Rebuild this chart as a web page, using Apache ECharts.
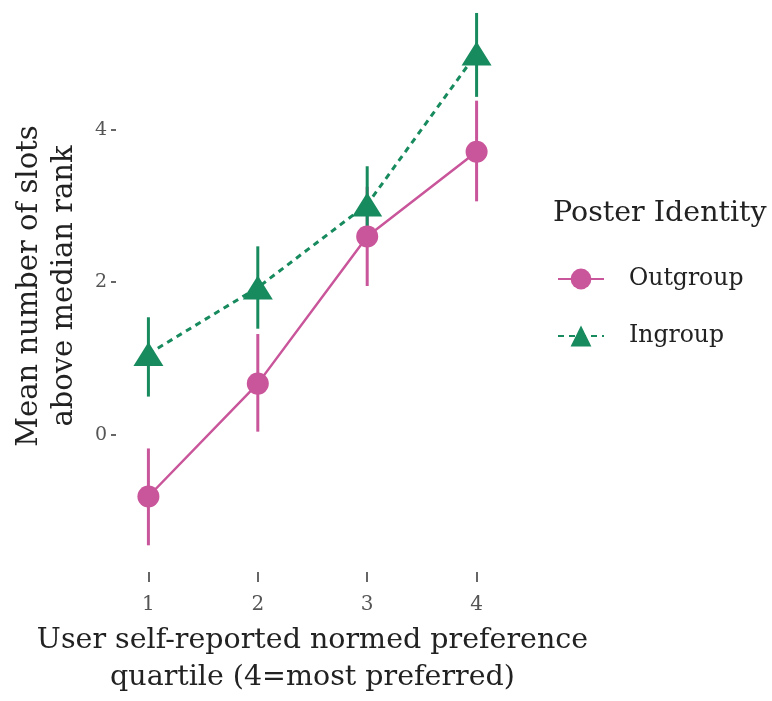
<!DOCTYPE html>
<html><head><meta charset="utf-8">
<script src="https://cdn.jsdelivr.net/npm/echarts@6/dist/echarts.min.js"></script>
<style>html,body{margin:0;padding:0;background:#fff}#c{width:772px;height:701px}</style>
</head><body><div id="c"></div>
<script>
const quartiles = [1, 2, 3, 4];
const xTicks = [1, 2, 3, 4];
const yTicks = [0, 2, 4];
const outMean = [-0.81, 0.67, 2.60, 3.71];
const outLow  = [-1.45, 0.04, 1.95, 3.06];
const outHigh = [-0.18, 1.32, 3.25, 4.38];
const inMean  = [1.06, 1.93, 3.02, 5.00];
const inLow   = [0.50, 1.39, 2.50, 4.43];
const inHigh  = [1.54, 2.47, 3.52, 5.53];

const PINK = '#c9559a', GREEN = '#178a5e';
const FONT = '"DejaVu Serif", "Liberation Serif", serif';

function errSeries(name, low, high, color) {
  return {
    type: 'custom', name: name + ' err', z: 1, silent: true,
    data: quartiles.map((q, i) => [q, low[i], high[i]]),
    renderItem: function (params, api) {
      const a = api.coord([api.value(0), api.value(1)]);
      const b = api.coord([api.value(0), api.value(2)]);
      return { type: 'line', shape: { x1: a[0], y1: a[1], x2: b[0], y2: b[1] },
               style: { stroke: color, lineWidth: 3 } };
    },
    encode: { x: 0, y: [1, 2] }
  };
}

const chart = echarts.init(document.getElementById('c'));
chart.setOption({
  animation: false,
  backgroundColor: '#fff',
  title: { text: 'Poster Identity', left: 553, top: 199, padding: 0,
           textStyle: { fontFamily: FONT, fontSize: 28.5, fontWeight: 'normal', color: '#222' } },
  legend: {
    orient: 'vertical', left: 557, top: 267, itemGap: 33, padding: 0,
    itemWidth: 46, itemHeight: 26,
    data: ['Outgroup', 'Ingroup'],
    textStyle: { fontFamily: FONT, fontSize: 23.5, color: '#222', padding: [0, 0, 0, 20] }
  },
  grid: { left: 132, right: 279, top: 0, bottom: 127, containLabel: false },
  xAxis: {
    type: 'value', min: 0.85, max: 4.15,
    name: 'User self-reported normed preference\nquartile (4=most preferred)',
    nameLocation: 'middle', nameGap: 50,
    nameTextStyle: { fontFamily: FONT, fontSize: 28.5, color: '#222', lineHeight: 37 },
    axisLine: { show: false, onZero: false },
    axisTick: { show: true, customValues: xTicks, length: 10, lineStyle: { color: '#666', width: 2 } },
    axisLabel: { customValues: xTicks, margin: 23, fontFamily: FONT, fontSize: 20, color: '#555' },
    splitLine: { show: false }
  },
  yAxis: {
    type: 'value', min: -1.8, max: 5.7, offset: 16,
    name: 'Mean number of slots\nabove median rank',
    nameLocation: 'middle', nameGap: 34,
    nameTextStyle: { fontFamily: FONT, fontSize: 29, color: '#222', lineHeight: 35 },
    axisLine: { show: false, onZero: false },
    axisTick: { show: true, customValues: yTicks, length: 5, lineStyle: { color: '#666', width: 2 } },
    axisLabel: { customValues: yTicks, margin: 9, fontFamily: FONT, fontSize: 19, color: '#555' },
    splitLine: { show: false }
  },
  series: [
    errSeries('Outgroup', outLow, outHigh, PINK),
    {
      type: 'line', name: 'Outgroup', z: 3,
      data: quartiles.map((q, i) => [q, outMean[i]]),
      symbol: 'circle', symbolSize: 22,
      lineStyle: { color: PINK, width: 2.5 },
      itemStyle: { color: PINK }
    },
    errSeries('Ingroup', inLow, inHigh, GREEN),
    {
      type: 'line', name: 'Ingroup', z: 4,
      data: quartiles.map((q, i) => [q, inMean[i]]),
      symbol: 'triangle', symbolSize: [30, 24],
      lineStyle: { color: GREEN, width: 3, type: [6, 5] },
      itemStyle: { color: GREEN }
    }
  ]
});
</script></body></html>
